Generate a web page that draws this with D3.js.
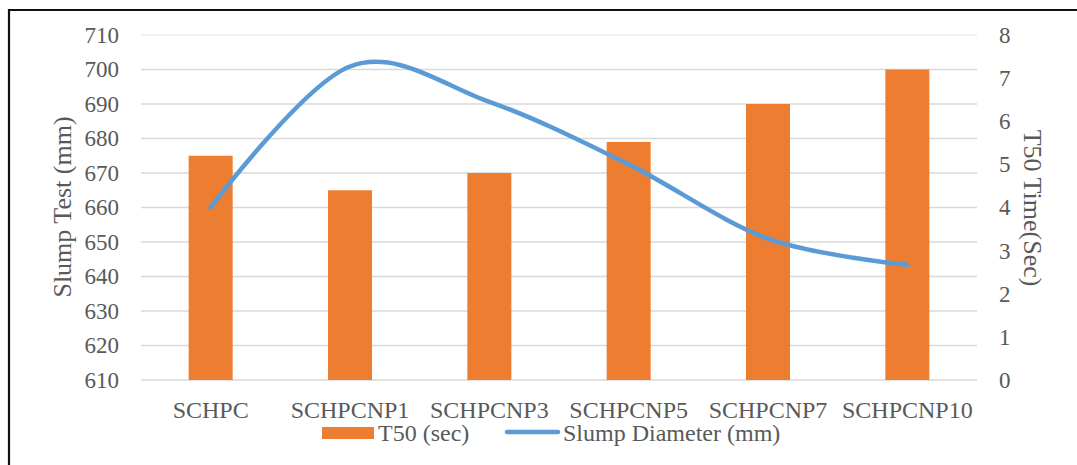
<!DOCTYPE html>
<html>
<head>
<meta charset="utf-8">
<script src="https://cdn.jsdelivr.net/npm/d3@7"></script>
<style>
  html, body { margin: 0; padding: 0; background: #fff; }
  svg { display: block; }
  text { font-family: "Liberation Serif", "Times New Roman", serif; fill: #595959; }
</style>
</head>
<body>
<svg id="chart" width="1077" height="465"></svg>
<script>
// Mix designations
const categories = ["SCHPC", "SCHPCNP1", "SCHPCNP3", "SCHPCNP5", "SCHPCNP7", "SCHPCNP10"];
// Bars, plotted on the left axis
const t50Values = [675, 665, 670, 679, 690, 700];
// Smoothed line, plotted on the right axis
const slumpValues = [4.0, 7.27, 6.45, 5.0, 3.28, 2.67];
// Axis ticks
const leftTicks = [610, 620, 630, 640, 650, 660, 670, 680, 690, 700, 710];
const rightTicks = [0, 1, 2, 3, 4, 5, 6, 7, 8];
const seriesNames = ["T50 (sec)", "Slump Diameter (mm)"];

const svg = d3.select("#chart");
const plot = { left: 141, right: 977, top: 35, bottom: 380 };
const barColor = "#ed7d31", lineColor = "#5b9bd5", gridColor = "#d9d9d9";

const x = d3.scaleBand().domain(categories)
  .range([plot.left, plot.right]).paddingInner(0.684).paddingOuter(0.342);
const yL = d3.scaleLinear().domain([610, 710]).range([plot.bottom, plot.top]);
const yR = d3.scaleLinear().domain([0, 8]).range([plot.bottom, plot.top]);

// frame (left and top edges)
svg.append("line").attr("x1", 9).attr("x2", 9).attr("y1", 9).attr("y2", 465)
  .attr("stroke", "#111").attr("stroke-width", 2.2);
svg.append("line").attr("x1", 8).attr("x2", 1077).attr("y1", 10).attr("y2", 10)
  .attr("stroke", "#111").attr("stroke-width", 2.2);

// gridlines
svg.append("g").selectAll("line").data(leftTicks).join("line")
  .attr("x1", plot.left).attr("x2", plot.right)
  .attr("y1", d => yL(d)).attr("y2", d => yL(d))
  .attr("stroke", d => d === 710 ? "#ededed" : gridColor)
  .attr("stroke-width", 1.5);

// left axis labels
const leftAxis = d3.axisLeft(yL).tickValues(leftTicks).tickSize(0).tickPadding(22);
const gL = svg.append("g").attr("transform", `translate(${plot.left},0)`).call(leftAxis);
gL.select(".domain").remove();
gL.selectAll("text").attr("font-size", 23).attr("fill", "#595959")
  .attr("font-family", "Liberation Serif");

// right axis labels
const rightAxis = d3.axisRight(yR).tickValues(rightTicks).tickSize(0).tickPadding(22);
const gR = svg.append("g").attr("transform", `translate(${plot.right},0)`).call(rightAxis);
gR.select(".domain").remove();
gR.selectAll("text").attr("font-size", 23).attr("fill", "#595959")
  .attr("font-family", "Liberation Serif");

// category labels
const xAxis = d3.axisBottom(x).tickSize(0).tickPadding(21);
const gX = svg.append("g").attr("transform", `translate(0,${plot.bottom})`).call(xAxis);
gX.select(".domain").remove();
gX.selectAll("text").attr("font-size", 24).attr("fill", "#595959")
  .attr("font-family", "Liberation Serif");

// bars
svg.append("g").selectAll("rect").data(t50Values).join("rect")
  .attr("x", (d, i) => x(categories[i]))
  .attr("width", x.bandwidth())
  .attr("y", d => yL(d))
  .attr("height", d => yL(610) - yL(d))
  .attr("fill", barColor);

// smoothed line
const line = d3.line()
  .x((d, i) => x(categories[i]) + x.bandwidth() / 2)
  .y(d => yR(d))
  .curve(d3.curveCardinal.tension(0));
svg.append("path").datum(slumpValues)
  .attr("d", line).attr("fill", "none")
  .attr("stroke", lineColor).attr("stroke-width", 4.5)
  .attr("stroke-linecap", "round").attr("stroke-linejoin", "round");

// axis titles
svg.append("text").attr("transform", "translate(71,207) rotate(-90)")
  .attr("text-anchor", "middle").attr("font-size", 26).text("Slump Test (mm)");
svg.append("text").attr("transform", "translate(1024,208) rotate(90)")
  .attr("text-anchor", "middle").attr("font-size", 26).text("T50 Time(Sec)");

// legend
const lg = svg.append("g");
lg.append("rect").attr("x", 322).attr("y", 427).attr("width", 52).attr("height", 12)
  .attr("fill", barColor);
lg.append("text").attr("x", 378).attr("y", 441).attr("font-size", 24).text(seriesNames[0]);
lg.append("line").attr("x1", 507).attr("x2", 558).attr("y1", 432).attr("y2", 432)
  .attr("stroke", lineColor).attr("stroke-width", 4.5).attr("stroke-linecap", "round");
lg.append("text").attr("x", 563).attr("y", 441).attr("font-size", 24).text(seriesNames[1]);
</script>
</body>
</html>
